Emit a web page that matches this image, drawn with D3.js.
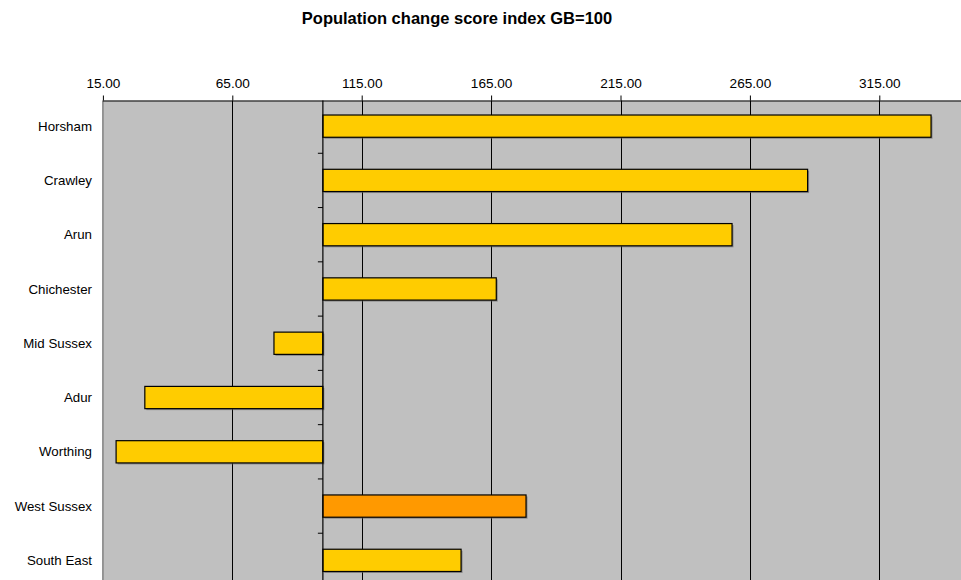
<!DOCTYPE html>
<html><head><meta charset="utf-8">
<script src="https://cdn.jsdelivr.net/npm/d3@7"></script>
<style>body{margin:0;background:#fff;}svg{display:block;font-family:Arial,"Liberation Sans",sans-serif;}</style>
</head><body>
<svg id="c" width="961" height="580"></svg>
<script>
const categories = ["Horsham","Crawley","Arun","Chichester","Mid Sussex","Adur","Worthing","West Sussex","South East"];
const values = [335, 287.3, 258.1, 167, 81.1, 31.2, 20.1, 178.5, 153.4];
const barColors = ["#FFCC00","#FFCC00","#FFCC00","#FFCC00","#FFCC00","#FFCC00","#FFCC00","#FF9900","#FFCC00"];
const tickValues = [15, 65, 115, 165, 215, 265, 315];
const baseline = 100;
const title = "Population change score index GB=100";

(function () {
const svg = d3.select("#c");
const pLeft = 102.9, pTop = 100.5, pBottom = 587.5;
const x = d3.scaleLinear().domain([15, 365]).range([pLeft, pLeft + 350 * 2.588]);
const y = d3.scaleBand().domain(categories).range([pTop - 1.5, pBottom]).paddingInner(0.59).paddingOuter(0.295);

svg.append("text").attr("x", 457).attr("y", 24).attr("text-anchor", "middle")
  .attr("font-weight", "bold").attr("font-size", 16.5).text(title);

// plot area
svg.append("rect").attr("x", pLeft).attr("y", pTop).attr("width", 961 - pLeft).attr("height", 580 - pTop).attr("fill", "#C0C0C0");
svg.append("line").attr("x1", pLeft).attr("x2", pLeft).attr("y1", pTop).attr("y2", 580).attr("stroke", "#808080").attr("stroke-width", 1.5);

// gridlines
svg.append("g").selectAll("line").data(tickValues.slice(1)).join("line")
  .attr("x1", d => Math.round(x(d)) + 0.5).attr("x2", d => Math.round(x(d)) + 0.5)
  .attr("y1", pTop).attr("y2", 580).attr("stroke", "#000").attr("stroke-width", 1);

// top axis
const ax = svg.append("g").attr("transform", `translate(0,${pTop})`)
  .call(d3.axisTop(x).tickValues(tickValues).tickFormat(d3.format(".2f")).tickSize(5).tickPadding(8));
ax.select(".domain").attr("stroke", "#000").attr("d", `M${pLeft},0.5H961`);
ax.selectAll(".tick line").attr("stroke", "#000");
ax.selectAll("text").attr("font-size", 13.6).attr("fill", "#000").attr("font-family", "Arial, 'Liberation Sans', sans-serif");

// bar shadows
svg.append("g").selectAll("rect").data(categories).join("rect")
  .attr("x", (d, i) => Math.min(x(values[i]), x(baseline)) + 1.5)
  .attr("y", d => y(d) + 1.5)
  .attr("width", (d, i) => Math.abs(x(values[i]) - x(baseline)))
  .attr("height", y.bandwidth())
  .attr("fill", "#666").attr("opacity", 0.6);
// bars
svg.append("g").selectAll("rect").data(categories).join("rect")
  .attr("x", (d, i) => Math.min(x(values[i]), x(baseline)))
  .attr("y", d => y(d))
  .attr("width", (d, i) => Math.abs(x(values[i]) - x(baseline)))
  .attr("height", y.bandwidth())
  .attr("fill", (d, i) => barColors[i]).attr("stroke", "#000").attr("stroke-width", 1.2);

// category axis at baseline
const bx = x(baseline);
svg.append("line").attr("x1", bx).attr("x2", bx).attr("y1", pTop).attr("y2", 580).attr("stroke", "#000").attr("stroke-width", 1.2);
const step = y.step();
svg.append("g").selectAll("line").data(d3.range(1, categories.length)).join("line")
  .attr("x1", bx - 5).attr("x2", bx).attr("y1", i => y.range()[0] + i * step).attr("y2", i => y.range()[0] + i * step)
  .attr("stroke", "#000");

// category labels
svg.append("g").selectAll("text").data(categories).join("text")
  .attr("x", 92).attr("y", d => y(d) + y.bandwidth() / 2).attr("dy", "0.35em")
  .attr("text-anchor", "end").attr("font-size", 13.3).text(d => d);
})();
</script>
</body></html>
